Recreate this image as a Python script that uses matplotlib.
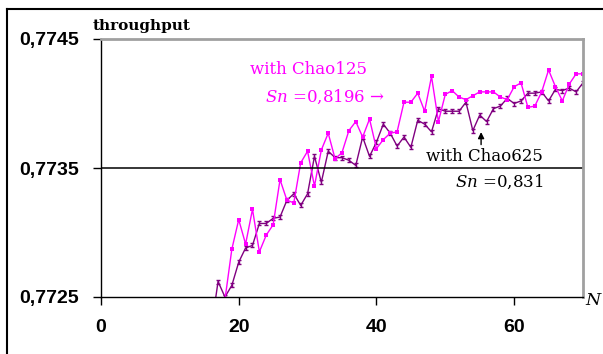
import numpy as np
import matplotlib.pyplot as plt
from matplotlib.path import Path
from matplotlib.lines import Line2D

plt.rcParams['mathtext.fontset'] = 'dejavuserif'

# throughput with Chao125 (magenta) and Chao625 (purple)
n_125 = np.arange(18, 71)
thr_125 = [0.77248, 0.77287, 0.77310, 0.77291, 0.77318, 0.77285, 0.77298, 0.77306,
           0.77341, 0.77325, 0.77323, 0.77354, 0.77363, 0.77336, 0.77364, 0.77377,
           0.77357, 0.77362, 0.77379, 0.77386, 0.77374, 0.77388, 0.77365, 0.77372,
           0.77377, 0.77378, 0.77401, 0.77401, 0.77408, 0.77394, 0.77421, 0.77386,
           0.77407, 0.77410, 0.77405, 0.77403, 0.77406, 0.77409, 0.77409, 0.77409,
           0.77405, 0.77403, 0.77413, 0.77416, 0.77397, 0.77398, 0.77409, 0.77426,
           0.77413, 0.77402, 0.77415, 0.77423, 0.77423]

n_625 = np.arange(16, 71)
thr_625 = [0.77225, 0.77262, 0.77250, 0.77259, 0.77277, 0.77288, 0.77290, 0.77307,
           0.77307, 0.77311, 0.77312, 0.77325, 0.77330, 0.77321, 0.77330, 0.77359,
           0.77339, 0.77363, 0.77358, 0.77358, 0.77356, 0.77352, 0.77374, 0.77359,
           0.77370, 0.77384, 0.77377, 0.77367, 0.77374, 0.77366, 0.77387, 0.77384,
           0.77378, 0.77396, 0.77394, 0.77394, 0.77394, 0.77401, 0.77379, 0.77391,
           0.77386, 0.77396, 0.77398, 0.77404, 0.77400, 0.77402, 0.77408, 0.77408,
           0.77409, 0.77402, 0.77411, 0.77410, 0.77412, 0.77409, 0.77416]

x_ticks = [0, 20, 40, 60]
y_ticks = [0.7725, 0.7735, 0.7745]
y_labels = ['0,7725', '0,7735', '0,7745']

# small I-beam marker like the original
ibeam = Path([(-1, 1), (1, 1), (0, 1), (0, -1), (-1, -1), (1, -1)],
             [Path.MOVETO, Path.LINETO, Path.MOVETO, Path.LINETO, Path.MOVETO, Path.LINETO])

fig = plt.figure(figsize=(6.03, 3.54), dpi=100)
ax = fig.add_axes([101 / 603, 1 - 297 / 354, 482 / 603, 258 / 354])

ax.plot(n_625, thr_625, color='#800080', lw=1.0, marker=ibeam, ms=3.2, mew=1.0)
ax.plot(n_125, thr_125, color='#FF00FF', lw=1.0, marker='s', ms=3.4, mew=0)

ax.axhline(0.7735, color='black', lw=1.1)

ax.set_xlim(0, 70)
ax.set_ylim(0.7725, 0.7745)
ax.set_xticks(x_ticks)
ax.set_yticks(y_ticks)
ax.set_yticklabels(y_labels)
ax.tick_params(direction='out', length=6, width=1, colors='black')
ax.tick_params(axis='y', pad=10)
ax.tick_params(axis='x', pad=10)
for lab in ax.get_xticklabels() + ax.get_yticklabels():
    lab.set_family('Liberation Sans')
    lab.set_fontweight('bold')
    lab.set_fontsize(14)

for s in ['top', 'right']:
    ax.spines[s].set_color('#A0A0A0')
    ax.spines[s].set_linewidth(2)
for s in ['left', 'bottom']:
    ax.spines[s].set_linewidth(1)

fig.text(93 / 603, 1 - 26 / 354, 'throughput', family='DejaVu Serif', fontweight='bold',
         fontsize=11, va='center', ha='left')
ax.text(70.35, 0.77247, 'N', family='DejaVu Serif', style='italic', fontsize=12.5,
        va='center', ha='left', clip_on=False)

ax.text(21.6, 0.77426, 'with Chao125', family='DejaVu Serif', fontsize=12,
        color='#FF00FF', va='center', ha='left')
ax.text(23.8, 0.77405, r'$Sn$ =0,8196 →', family='DejaVu Serif', fontsize=12,
        color='#FF00FF', va='center', ha='left')
ax.text(64.2, 0.77359, 'with Chao625', family='DejaVu Serif', fontsize=12,
        color='black', va='center', ha='right')
ax.text(64.2, 0.77339, r'$Sn$ =0,831', family='DejaVu Serif', fontsize=12,
        color='black', va='center', ha='right')
ax.annotate('', xy=(55.2, 0.77380), xytext=(55.2, 0.77366),
            arrowprops=dict(arrowstyle='-|>', color='black', lw=1, mutation_scale=9))

# outer frame of the original picture
fig.add_artist(Line2D([7 / 603, 1], [1 - 9 / 354, 1 - 9 / 354], color='black', lw=1.5,
                      transform=fig.transFigure))
fig.add_artist(Line2D([7 / 603, 7 / 603], [0, 1 - 9 / 354], color='black', lw=1.5,
                      transform=fig.transFigure))

fig.savefig('out.png', dpi=100)
